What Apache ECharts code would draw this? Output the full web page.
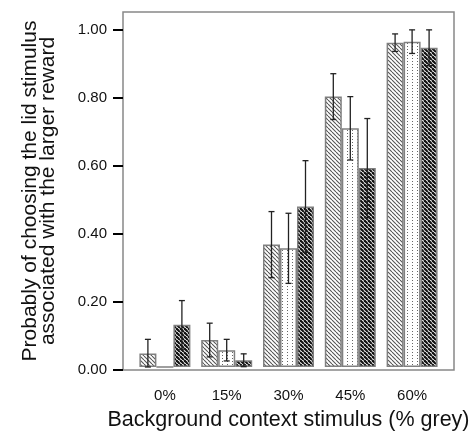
<!DOCTYPE html>
<html>
<head>
<meta charset="utf-8">
<style>
  html, body { margin: 0; padding: 0; background: #fff; }
  #chart { width: 476px; height: 436px; }
</style>
<script src="https://cdn.jsdelivr.net/npm/echarts@6/dist/echarts.min.js"></script>
</head>
<body>
<div id="chart"></div>
<script>
// background context categories
var categories = ['0%', '15%', '30%', '45%', '60%']
var yTicks = [0, 0.2, 0.4, 0.6, 0.8, 1.0]

// mean probability per group (three bars per category)
var groupA = [0.04, 0.08, 0.363, 0.802, 0.962]
var groupB = [0, 0.05, 0.352, 0.708, 0.965]
var groupC = [0.125, 0.02, 0.476, 0.59, 0.947]

// error bar half lengths
var errA = [0.042, 0.05, 0.098, 0.068, 0.026]
var errB = [0, 0.032, 0.104, 0.094, 0.035]
var errC = [0.072, 0.019, 0.136, 0.147, 0.053]

var BAR_W = 17
var FONT = 'Liberation Sans, Arial, sans-serif'

// pattern tiles for the bar fills
function hatch (fg, lw, step) {
  var c = document.createElement('canvas')
  c.width = c.height = step
  var ctx = c.getContext('2d')
  ctx.fillStyle = '#fff'
  ctx.fillRect(0, 0, step, step)
  ctx.strokeStyle = fg
  ctx.lineWidth = lw
  for (var k = -1; k <= 1; k++) {
    ctx.beginPath()
    ctx.moveTo(k * step, 0)
    ctx.lineTo(k * step + step, step)
    ctx.stroke()
  }
  return { image: c, repeat: 'repeat' }
}

function dots () {
  var c = document.createElement('canvas')
  c.width = 5
  c.height = 3
  var ctx = c.getContext('2d')
  ctx.fillStyle = '#fff'
  ctx.fillRect(0, 0, 5, 3)
  ctx.fillStyle = '#666'
  ctx.fillRect(2, 1, 1, 1)
  return { image: c, repeat: 'repeat' }
}

var fills = [hatch('#555', 1.1, 4), dots(), hatch('#111', 2.2, 4)]
var means = [groupA, groupB, groupC]
var errs = [errA, errB, errC]

function errorData (idx) {
  return categories.map(function (c, i) {
    return [i, means[idx][i], errs[idx][i]]
  })
}

function errorSeries (idx) {
  return {
    type: 'custom',
    xAxisIndex: 0,
    yAxisIndex: 0,
    z: 5,
    silent: true,
    data: errorData(idx),
    renderItem: function (params, api) {
      var cat = api.value(0)
      var v = api.value(1)
      var e = api.value(2)
      if (!e) return
      var off = (idx - 1) * BAR_W
      var top = api.coord([cat, v + e])
      var bot = api.coord([cat, Math.max(v - e, 0)])
      var x = top[0] + off
      var st = { stroke: '#222', lineWidth: 1.3 }
      return {
        type: 'group',
        children: [
          { type: 'line', shape: { x1: x, y1: top[1], x2: x, y2: bot[1] }, style: st },
          { type: 'line', shape: { x1: x - 3, y1: top[1], x2: x + 3, y2: top[1] }, style: st },
          { type: 'line', shape: { x1: x - 3, y1: bot[1], x2: x + 3, y2: bot[1] }, style: st }
        ]
      }
    }
  }
}

var barSeries = means.map(function (d, i) {
  return {
    type: 'bar',
    xAxisIndex: 0,
    yAxisIndex: 0,
    barWidth: BAR_W,
    barGap: '0%',
    data: d,
    itemStyle: {
      color: fills[i],
      borderColor: '#808080',
      borderWidth: 1.5
    }
  }
})

var chart = echarts.init(document.getElementById('chart'), null, { renderer: 'canvas' })
chart.setOption({
  animation: false,
  backgroundColor: '#fff',
  grid: [
    { left: 134, right: 33, top: 12, bottom: 66 },
    { left: 123, right: 22, top: 12, bottom: 66, show: true, borderColor: '#888', borderWidth: 1.5, backgroundColor: 'transparent' }
  ],
  xAxis: [
    {
      type: 'category',
      gridIndex: 0,
      data: categories,
      axisLine: { show: false },
      axisTick: { alignWithLabel: true, length: 9, lineStyle: { color: '#000', width: 2 } },
      axisLabel: { margin: 21, fontSize: 15, color: '#111', fontFamily: FONT },
      name: 'Background context stimulus (% grey)',
      nameLocation: 'middle',
      nameGap: 42,
      nameTextStyle: { fontSize: 21.5, color: '#111', fontFamily: FONT }
    },
    { type: 'value', gridIndex: 1, show: false, min: 0, max: 1 }
  ],
  yAxis: [
    { type: 'value', gridIndex: 0, min: 0, max: 1.053, show: false },
    {
      type: 'value',
      gridIndex: 1,
      min: 0,
      max: 1.053,
      axisLine: { show: false },
      splitLine: { show: false },
      axisTick: { show: true, length: 10, customValues: yTicks, lineStyle: { color: '#000', width: 2 } },
      axisLabel: {
        customValues: yTicks,
        margin: 16,
        fontSize: 15,
        color: '#111',
        fontFamily: FONT,
        formatter: function (v) { return v.toFixed(2) }
      },
      name: 'Probably of choosing the lid stimulus\nassociated with the larger reward',
      nameLocation: 'middle',
      nameGap: 66,
      nameTextStyle: { fontSize: 21, lineHeight: 18, color: '#111', fontFamily: FONT }
    }
  ],
  series: barSeries.concat([errorSeries(0), errorSeries(1), errorSeries(2)])
})
</script>
</body>
</html>
